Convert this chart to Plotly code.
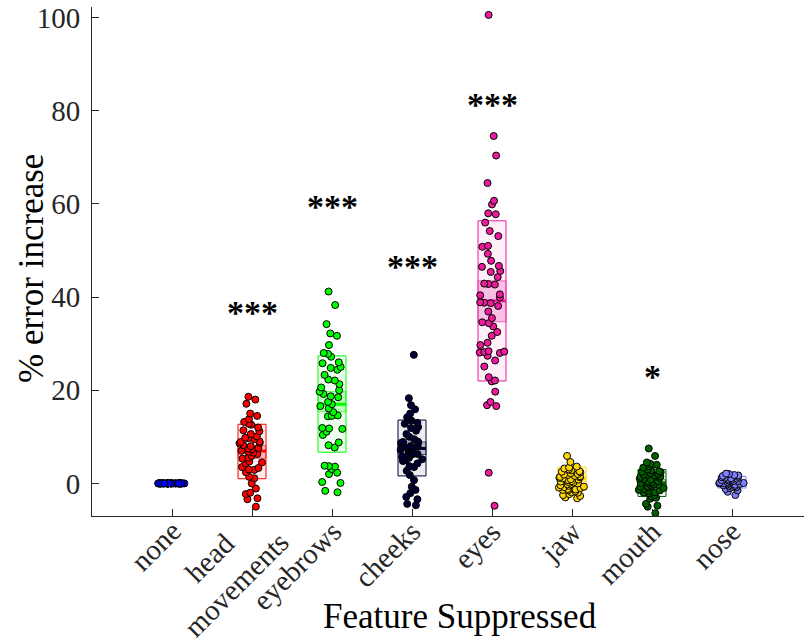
import math
import plotly.graph_objects as go

# ---------------- data ----------------
categories = ["none", "head<br>movements", "eyebrows", "cheeks", "eyes", "jaw", "mouth", "nose"]
colors = ["#0000FF", "#FF0000", "#00FF00", "#000033", "#EE1C9D", "#FFD700", "#006000", "#8080FF"]

none_vals = [0.0] * 50
head_vals = [18.6, 18.0, 17.1, 15.0, 14.5, 13.8, 13.2, 12.8, 12.6, 12.0, 11.4, 11.2, 10.6, 10.1,
             9.8, 9.7, 9.5, 9.0, 8.9, 8.7, 8.6, 8.2, 8.0, 7.6, 7.5, 7.3, 7.0, 6.8, 6.6, 6.3,
             5.9, 5.5, 5.3, 4.7, 4.5, 4.3, 3.5, 3.3, 3.0, 2.9, 2.4, 1.4, 1.1, 0.0, -1.1, -2.0,
             -2.3, -3.2, -3.4, -5.0]
eyebrows_vals = [41.2, 38.3, 34.2, 32.2, 31.7, 29.7, 28.0, 27.8, 27.2, 26.0, 25.8, 25.0, 24.8,
                 24.4, 23.3, 22.3, 22.1, 21.3, 20.6, 20.0, 19.7, 19.2, 18.7, 18.5, 17.5, 17.0,
                 16.6, 16.1, 15.3, 14.6, 14.5, 14.4, 11.9, 11.8, 11.7, 11.1, 10.4, 8.8, 8.2,
                 7.7, 3.8, 3.7, 3.6, 3.1, 2.3, 2.0, 0.3, 0.1, -1.6, -1.9]
cheeks_vals = [27.6, 18.3, 16.8, 15.9, 15.0, 14.2, 13.7, 13.5, 13.0, 12.8, 12.1, 11.9, 11.3,
               10.6, 10.0, 9.5, 9.0, 8.9, 8.8, 8.7, 8.1, 8.0, 7.9, 7.6, 7.3, 7.2, 7.1, 6.4,
               6.3, 6.2, 6.1, 5.7, 5.5, 5.2, 5.0, 4.8, 4.3, 3.7, 3.5, 2.7, 1.8, 0.7, -0.7,
               -1.4, -2.1, -2.9, -3.4, -4.4, -4.7]
eyes_vals = [100.6, 74.6, 70.4, 64.5, 60.7, 59.9, 58.0, 57.8, 56.0, 54.2, 53.1, 51.0, 50.8,
             49.3, 47.8, 46.7, 46.5, 45.6, 45.4, 44.3, 42.9, 42.8, 42.7, 40.6, 40.4, 39.9,
             38.9, 38.8, 38.7, 38.1, 36.9, 35.5, 34.6, 34.4, 33.7, 32.5, 31.7, 30.2, 29.7,
             28.4, 28.3, 28.2, 28.1, 28.0, 27.4, 26.4, 25.1, 22.8, 22.1, 21.9, 19.7, 17.5,
             16.8, 16.6, 2.3, -4.8]
jaw_vals = [5.9, 4.6, 3.6, 3.4, 3.2, 3.0, 2.8, 2.6, 2.5, 2.4, 2.2, 2.0, 1.9, 1.8, 1.6, 1.5,
            1.4, 1.3, 1.2, 1.1, 0.9, 0.8, 0.7, 0.5, 0.4, 0.3, 0.2, 0.0, -0.1, -0.2, -0.4,
            -0.5, -0.7, -0.8, -0.9, -1.0, -1.2, -1.3, -1.4, -1.5, -1.7, -1.9, -2.0, -2.3,
            -2.5, -2.7, -3.0, -3.2]
mouth_vals = [7.5, 5.9, 4.5, 4.2, 4.0, 3.7, 3.4, 3.0, 2.8, 2.6, 2.5, 2.4, 2.2, 2.0, 1.9, 1.8,
              1.7, 1.5, 1.4, 1.2, 1.0, 0.9, 0.8, 0.5, 0.4, 0.2, 0.1, 0.0, -0.2, -0.3, -0.5,
              -0.6, -0.7, -0.9, -1.0, -1.2, -1.4, -1.5, -1.6, -1.9, -2.0, -2.1, -2.5, -2.8,
              -3.1, -3.3, -4.4, -4.8, -5.0, -6.4]
nose_vals = [2.1, 2.0, 1.8, 1.7, 1.6, 1.4, 1.3, 1.2, 1.1, 1.0, 0.9, 0.8, 0.7, 0.6, 0.5, 0.5,
             0.4, 0.3, 0.2, 0.1, 0.1, 0.0, 0.0, -0.1, -0.2, -0.3, -0.4, -0.5, -0.6, -0.7,
             -0.9, -1.0, -1.2, -1.5, -1.8, -2.5]
group_values = [none_vals, head_vals, eyebrows_vals, cheeks_vals, eyes_vals,
                jaw_vals, mouth_vals, nose_vals]

# summary patches (mean, 95% CI band, 1 SD box)
sd_low = [0.0, 1.0, 6.7, 1.6, 22.0, -1.5, -2.8, -1.0]
sd_high = [0.0, 12.7, 27.4, 13.6, 56.4, 3.5, 3.0, 1.5]
ci_low = [0.0, 5.4, 15.4, 6.2, 34.7, 0.4, -0.6, -0.1]
ci_high = [0.0, 8.1, 19.7, 8.9, 43.5, 1.6, 0.8, 0.6]
means = [0.0, 6.95, 17.0, 7.5, 39.2, 1.0, 0.1, 0.25]

sig_text = ["", "***", "***", "***", "***", "", "*", ""]
sig_y = [None, 36.6, 59.4, 46.5, 81.4, None, 22.9, None]

positions = list(range(1, len(categories) + 1))
HALF = 0.175
FONT = "Liberation Serif"
TICK_SIZE = 29


def rgba(hexcol, a):
    h = hexcol.lstrip("#")
    r, g, b = int(h[0:2], 16), int(h[2:4], 16), int(h[4:6], 16)
    return f"rgba({r},{g},{b},{a})"


fig = go.Figure()
shapes = []
for i, pos in enumerate(positions):
    c = colors[i]
    shapes.append(dict(type="rect", xref="x", yref="y", layer="below",
                       x0=pos - HALF, x1=pos + HALF, y0=sd_low[i], y1=sd_high[i],
                       fillcolor=rgba(c, 0.07), line=dict(color=c, width=1)))
    shapes.append(dict(type="rect", xref="x", yref="y", layer="below",
                       x0=pos - HALF, x1=pos + HALF, y0=ci_low[i], y1=ci_high[i],
                       fillcolor=rgba(c, 0.22), line=dict(color=rgba(c, 0.6), width=1)))
    shapes.append(dict(type="line", xref="x", yref="y", layer="below",
                       x0=pos - HALF, x1=pos + HALF, y0=means[i], y1=means[i],
                       line=dict(color=c, width=3)))

    vals = group_values[i]
    fig.add_trace(go.Box(
        x=[pos] * len(vals), y=vals, boxpoints="all", jitter=1.0, pointpos=0,
        width=2 * HALF, fillcolor="rgba(0,0,0,0)", line=dict(width=0, color=c),
        marker=dict(color=c, size=7, line=dict(color="black", width=1)),
        showlegend=False, hoveron="points"))

annotations = []
for i, pos in enumerate(positions):
    if sig_text[i]:
        annotations.append(dict(x=pos, y=sig_y[i], xref="x", yref="y",
                                text="<b>" + sig_text[i] + "</b>",
                                showarrow=False, xanchor="center", yanchor="middle",
                                font=dict(family=FONT, size=34, color="black")))

# rotated category labels (anchored by the end of the text, lines centred)
for i, pos in enumerate(positions):
    n = categories[i].count("<br>") + 1
    h_est = TICK_SIZE * 1.3 * n + 4
    half = h_est / (2 * math.sqrt(2))
    ex = 3 + 15 * (n - 1)
    ey = 11 - 3 * (n - 1)
    annotations.append(dict(text=categories[i], x=pos, y=0, xref="x", yref="paper",
                            xanchor="right", yanchor="top", textangle=-45, align="center",
                            xshift=ex + half, yshift=-(ey - half), showarrow=False,
                            font=dict(family=FONT, size=TICK_SIZE, color="#262626")))

annotations.append(dict(text="Feature Suppressed", xref="x", yref="paper", x=4.6, y=-0.198,
                        xanchor="center", yanchor="middle", showarrow=False,
                        font=dict(family=FONT, size=35, color="black")))
annotations.append(dict(text="% error increase", xref="paper", yref="paper", x=-0.086, y=0.487,
                        xanchor="center", yanchor="middle", textangle=-90, showarrow=False,
                        font=dict(family=FONT, size=35, color="black")))

fig.update_layout(
    width=804, height=639,
    margin=dict(l=92, r=0, t=7, b=123),
    paper_bgcolor="white", plot_bgcolor="white",
    boxmode="overlay",
    shapes=shapes, annotations=annotations,
    xaxis=dict(range=[0, 8.9], tickvals=positions, showticklabels=False,
               ticks="inside", ticklen=7, tickcolor="#262626",
               showline=True, linecolor="#262626", linewidth=1,
               showgrid=False, zeroline=False, automargin=False),
    yaxis=dict(range=[-7.0, 102.3], tickvals=[0, 20, 40, 60, 80, 100],
               tickfont=dict(family=FONT, size=TICK_SIZE, color="#262626"),
               ticks="inside", ticklen=7, tickcolor="#262626", ticklabelstandoff=5,
               showline=True, linecolor="#262626", linewidth=1,
               showgrid=False, zeroline=False, automargin=False),
)

fig.write_html("out.html", config={"displayModeBar": False},
               post_script="document.body.style.margin='0';")
